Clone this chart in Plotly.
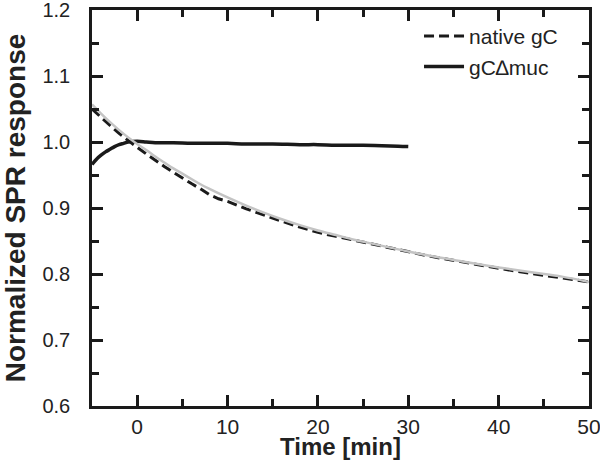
import plotly.graph_objects as go

# native gC (dashed, measured)
native_t = [-5, -4, -3, -2, -1, 0, 1, 2, 3, 4, 5, 6, 7, 8, 9, 10, 12, 14, 16, 18,
            20, 22, 24, 26, 28, 30, 32, 34, 36, 38, 40, 42, 44, 46, 48, 50]
native_y = [1.050, 1.037, 1.025, 1.013, 1.002, 0.992, 0.982, 0.972, 0.963, 0.954,
            0.945, 0.937, 0.929, 0.920, 0.914, 0.910, 0.899, 0.889, 0.880, 0.871,
            0.863, 0.857, 0.851, 0.845, 0.839, 0.833, 0.828, 0.823, 0.818, 0.813,
            0.808, 0.804, 0.800, 0.796, 0.792, 0.788]

# fit curve (light grey)
fit_t = [-5, -4, -3, -2, -1, 0, 1, 2, 3, 4, 5, 6, 7, 8, 10, 12, 14, 16, 18, 20,
         22, 24, 26, 28, 30, 33, 36, 40, 44, 47, 50]
fit_y = [1.057, 1.043, 1.030, 1.018, 1.007, 0.997, 0.988, 0.978, 0.969, 0.960,
         0.952, 0.944, 0.936, 0.929, 0.916, 0.904, 0.893, 0.883, 0.874, 0.866,
         0.859, 0.852, 0.846, 0.840, 0.834, 0.826, 0.819, 0.810, 0.802, 0.796, 0.788]

# gC delta-muc (solid)
muc_t = [-5, -4.5, -4, -3.5, -3, -2.5, -2, -1.5, -1, 0, 1, 2, 4, 6, 8, 10, 12, 15,
         18, 20, 22, 25, 28, 30]
muc_y = [0.966, 0.974, 0.980, 0.985, 0.989, 0.993, 0.996, 0.998, 1.000, 1.001,
         1.000, 0.999, 0.999, 0.998, 0.998, 0.998, 0.997, 0.997, 0.996, 0.996,
         0.995, 0.995, 0.994, 0.993]

FONT = "Liberation Sans, Arial, sans-serif"
INK = "#1a1a1a"

fig = go.Figure()
fig.add_trace(go.Scatter(x=native_t, y=native_y, mode="lines", name="native gC",
                         line=dict(color=INK, width=3, dash="10px,5px")))
fig.add_trace(go.Scatter(x=muc_t, y=muc_y, mode="lines", name="gC\u2206muc",
                         line=dict(color=INK, width=3.5, shape="spline")))
fig.add_trace(go.Scatter(x=fit_t, y=fit_y, mode="lines", showlegend=False,
                         line=dict(color="#c4c4c4", width=2.5, shape="spline")))

axis_common = dict(showline=True, linecolor=INK, linewidth=2.5, mirror="ticks",
                   ticks="inside", ticklen=11, tickwidth=2.5, tickcolor=INK,
                   showgrid=False, zeroline=False, automargin=False,
                   ticklabeloverflow="allow")

fig.update_xaxes(range=[-5, 50], tick0=0, dtick=10, ticklabelstandoff=0,
                 tickfont=dict(family=FONT, size=21, color="#222"),
                 minor=dict(ticks="inside", ticklen=7, tickwidth=2.5, dtick=5, tick0=0,
                            tickcolor=INK, showgrid=False),
                 **axis_common)
fig.update_yaxes(range=[0.6, 1.2], tick0=0.6, dtick=0.1, tickformat=".1f",
                 ticklabelstandoff=15,
                 tickfont=dict(family=FONT, size=20, color="#222"),
                 minor=dict(ticks="inside", ticklen=7, tickwidth=2.5, dtick=0.05, tick0=0.6,
                            tickcolor=INK, showgrid=False),
                 title=dict(text="<b>Normalized SPR response</b>", standoff=9,
                            font=dict(family=FONT, size=28, color="#222")),
                 **axis_common)

# x title as an annotation so it can sit closer to the tick labels
fig.add_annotation(text="<b>Time [min]</b>", xref="paper", yref="paper", x=0.5, y=0,
                   yshift=-40.5, showarrow=False, yanchor="middle",
                   font=dict(family=FONT, size=24, color="#222"))

fig.update_layout(
    width=600, height=461,
    margin=dict(l=92, r=11, t=10, b=55),
    plot_bgcolor="white", paper_bgcolor="white",
    showlegend=True,
    legend=dict(x=0.658, y=0.985, xanchor="left", yanchor="top",
                bgcolor="rgba(0,0,0,0)", borderwidth=0,
                font=dict(family=FONT, size=21, color="#222"),
                itemwidth=40, tracegroupgap=0),
)

fig.write_html("out.html", config={"displayModeBar": False},
               post_script="document.body.style.margin='0';")
